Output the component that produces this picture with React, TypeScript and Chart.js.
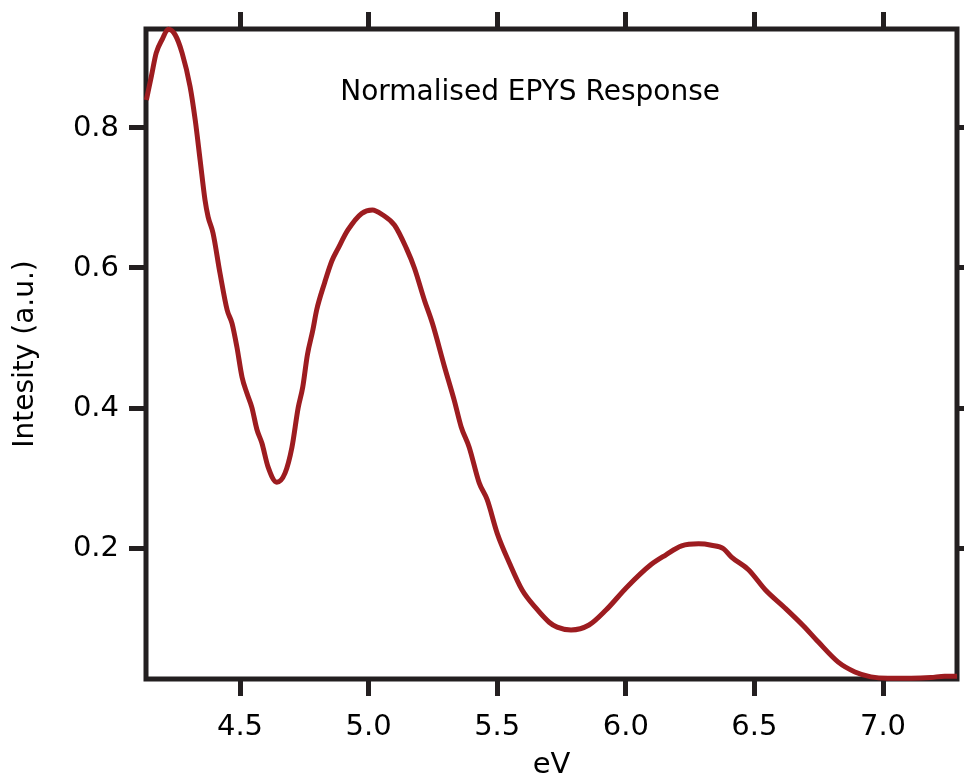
import React, { useEffect, useRef } from "react";
import { Chart, registerables } from "chart.js";

Chart.register(...registerables);

const energyEV = [
  4.136, 4.156, 4.174, 4.198, 4.221, 4.248, 4.275, 4.306, 4.326, 4.345,
  4.364, 4.376, 4.395, 4.422, 4.45, 4.469, 4.488, 4.508, 4.527, 4.546,
  4.566, 4.585, 4.609, 4.643, 4.675, 4.702, 4.726, 4.744, 4.762, 4.783,
  4.798, 4.829, 4.857, 4.88, 4.919, 4.973, 5.015, 5.054, 5.101, 5.147,
  5.178, 5.217, 5.248, 5.295, 5.333, 5.36, 5.391, 5.43, 5.461, 5.5,
  5.547, 5.597, 5.651, 5.702, 5.733, 5.787, 5.857, 5.922, 6.004, 6.097,
  6.155, 6.217, 6.283, 6.333, 6.38, 6.411, 6.477, 6.543, 6.62, 6.69,
  6.748, 6.826, 6.891, 6.953, 7.019, 7.109, 7.186, 7.24, 7.288,
];

const intensity = [
  0.84, 0.875, 0.907, 0.927, 0.941, 0.933, 0.907, 0.859, 0.811, 0.754,
  0.697, 0.673, 0.65, 0.593, 0.54, 0.521, 0.487, 0.444, 0.421, 0.401,
  0.369, 0.35, 0.316, 0.294, 0.307, 0.344, 0.4, 0.43, 0.476, 0.511,
  0.54, 0.579, 0.61, 0.627, 0.654, 0.678, 0.683, 0.676, 0.661, 0.628,
  0.6, 0.554, 0.521, 0.459, 0.411, 0.373, 0.344, 0.293, 0.269, 0.221,
  0.179, 0.14, 0.114, 0.094, 0.087, 0.083, 0.09, 0.111, 0.144, 0.176,
  0.19, 0.203, 0.206, 0.204, 0.199, 0.187, 0.169, 0.14, 0.114, 0.089,
  0.066, 0.037, 0.023, 0.016, 0.014, 0.014, 0.015, 0.017, 0.017,
];

const xTicks = [4.5, 5.0, 5.5, 6.0, 6.5, 7.0];
const yTicks = [0.2, 0.4, 0.6, 0.8];
const xRange = [4.1345, 7.2877];
const yRange = [0.0129, 0.9414];

const chartTitle = "Normalised EPYS Response";
const xTitle = "eV";
const yTitle = "Intesity (a.u.)";

const INK = "#231f20";
const LINE = "#9d1c20";
const FONT = "'DejaVu Sans', sans-serif";

export default function App() {
  const ref = useRef<HTMLCanvasElement | null>(null);

  useEffect(() => {
    if (!ref.current) return;

    const gridOpts = {
      display: true,
      drawOnChartArea: false,
      drawTicks: true,
      tickLength: 17,
      lineWidth: 5,
      color: INK,
    };

    const framePlugin = {
      id: "frame",
      beforeDatasetsDraw(chart: any) {
        const { ctx, chartArea } = chart;
        ctx.save();
        ctx.strokeStyle = INK;
        ctx.lineWidth = 5;
        ctx.lineJoin = "miter";
        ctx.strokeRect(
          chartArea.left,
          chartArea.top,
          chartArea.right - chartArea.left,
          chartArea.bottom - chartArea.top
        );
        ctx.restore();
      },
      afterDraw(chart: any) {
        const { ctx } = chart;
        const xs = chart.scales.x;
        const ys = chart.scales.y;
        ctx.save();
        ctx.fillStyle = "#000";
        ctx.font = `28px ${FONT}`;
        ctx.textAlign = "center";
        ctx.textBaseline = "alphabetic";
        ctx.fillText(chartTitle, xs.getPixelForValue(5.628), ys.getPixelForValue(0.84));
        ctx.restore();
      },
    };

    const chart = new Chart(ref.current, {
      type: "line",
      data: {
        datasets: [
          {
            data: energyEV.map((x, i) => ({ x, y: intensity[i] })),
            borderColor: LINE,
            borderWidth: 5,
            pointRadius: 0,
            cubicInterpolationMode: "monotone",
            fill: false,
            clip: false as any,
          },
        ],
      },
      options: {
        animation: false,
        responsive: false,
        layout: { padding: 0 },
        plugins: { legend: { display: false }, tooltip: { enabled: false } },
        scales: {
          x: {
            type: "linear",
            position: "bottom",
            min: xRange[0],
            max: xRange[1],
            afterBuildTicks: (s: any) => {
              s.ticks = xTicks.map((v) => ({ value: v }));
            },
            afterFit: (s: any) => {
              s.height = 99;
            },
            grid: gridOpts,
            border: { display: false },
            ticks: {
              color: "#000",
              font: { family: FONT, size: 29 },
              padding: 14,
              maxRotation: 0,
              autoSkip: false,
              callback: (v: any) => Number(v).toFixed(1),
            },
            title: {
              display: true,
              text: xTitle,
              color: "#000",
              font: { family: FONT, size: 29 },
              padding: { top: 0, bottom: -5 },
            },
          },
          x2: {
            type: "linear",
            position: "top",
            min: xRange[0],
            max: xRange[1],
            afterBuildTicks: (s: any) => {
              s.ticks = xTicks.map((v) => ({ value: v }));
            },
            afterFit: (s: any) => {
              s.height = 29;
            },
            grid: gridOpts,
            border: { display: false },
            ticks: { display: false },
          },
          y: {
            type: "linear",
            position: "left",
            min: yRange[0],
            max: yRange[1],
            afterBuildTicks: (s: any) => {
              s.ticks = yTicks.map((v) => ({ value: v }));
            },
            afterFit: (s: any) => {
              s.width = 146;
            },
            grid: gridOpts,
            border: { display: false },
            ticks: {
              color: "#000",
              font: { family: FONT, size: 29 },
              padding: 10,
              callback: (v: any) => Number(v).toFixed(1),
            },
            title: {
              display: true,
              text: yTitle,
              color: "#000",
              font: { family: FONT, size: 28 },
              padding: { top: 9, bottom: 0 },
            },
          },
          y2: {
            type: "linear",
            position: "right",
            min: yRange[0],
            max: yRange[1],
            afterBuildTicks: (s: any) => {
              s.ticks = yTicks.map((v) => ({ value: v }));
            },
            afterFit: (s: any) => {
              s.width = 7;
            },
            grid: gridOpts,
            border: { display: false },
            ticks: { display: false },
          },
        },
      } as any,
      plugins: [framePlugin],
    });

    return () => chart.destroy();
  }, []);

  return (
    <div style={{ position: "absolute", left: 0, top: 0, width: 964, height: 778, background: "#fff" }}>
      <canvas ref={ref} width={964} height={778} style={{ display: "block" }} />
    </div>
  );
}
